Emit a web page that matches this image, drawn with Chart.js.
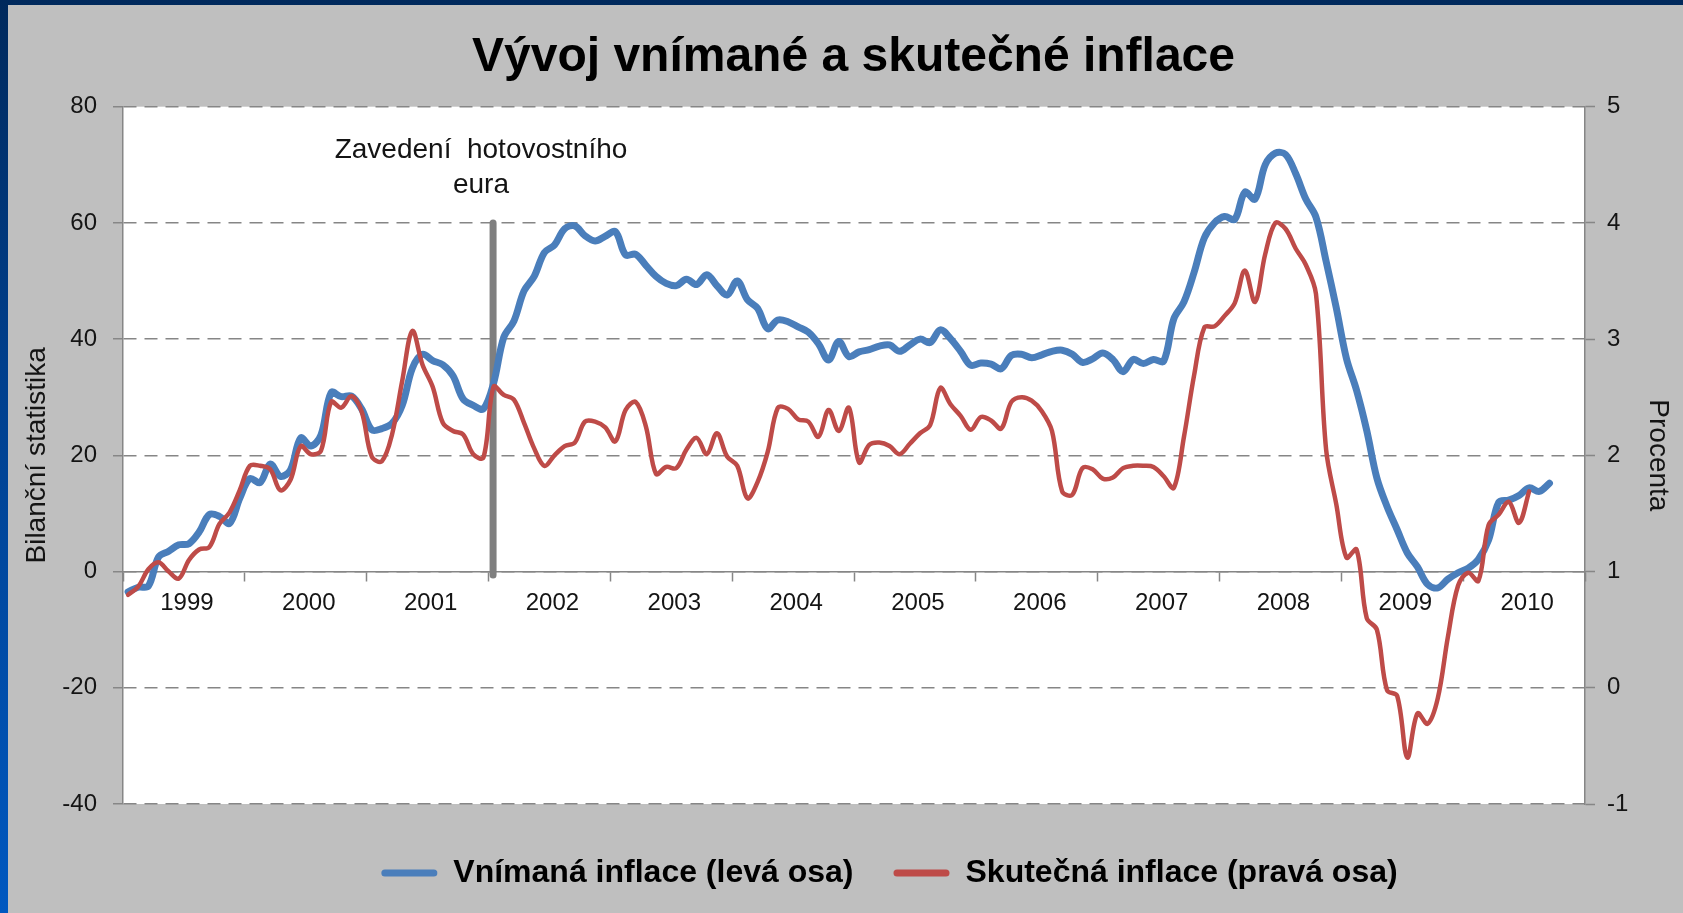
<!DOCTYPE html>
<html>
<head>
<meta charset="utf-8">
<title>Vývoj vnímané a skutečné inflace</title>
<script src="https://cdn.jsdelivr.net/npm/chart.js@4"></script>
<style>
    html, body { margin: 0; padding: 0; }
    body {
        width: 1683px; height: 913px; overflow: hidden;
        background: linear-gradient(to bottom, #00295c 0%, #003f8c 40%, #0058c0 100%);
    }
    #frame { position: absolute; left: 8px; top: 5px; width: 1675px; height: 908px; background: #bfbfbf; }
    canvas { display: block; }
</style>
</head>
<body>
<div id="frame"><canvas id="myChart" width="1675" height="908"></canvas></div>
<script>
// monthly data, Jan 1999 onwards
const yearLabels = ['1999', '2000', '2001', '2002', '2003', '2004', '2005', '2006', '2007', '2008', '2009', '2010'];

// Vnímaná inflace - bilanční statistika (levá osa)
const perceived = [
    -3.5, -2.7, -2.5, 2.5, 3.5, 4.6, 4.8, 6.8, 9.8, 9.5,
    8.3, 12.6, 16.0, 15.3, 18.5, 16.4, 17.5, 23.0, 21.6, 23.5,
    30.8, 30.1, 30.2, 28.0, 24.4, 24.6, 25.5, 28.6, 35.0, 37.4,
    36.3, 35.6, 33.7, 29.7, 28.6, 28.0, 32.4, 40.3, 43.1, 48.3,
    50.8, 54.9, 56.2, 59.0, 59.5, 57.8, 56.9, 57.7, 58.5, 54.5,
    54.6, 52.7, 50.8, 49.6, 49.2, 50.3, 49.4, 51.1, 49.2, 47.6,
    50.0, 46.8, 45.3, 41.8, 43.3, 43.0, 42.1, 41.2, 39.2, 36.4,
    39.6, 37.0, 37.8, 38.2, 38.8, 39.0, 37.9, 39.0, 40.0, 39.4,
    41.6, 40.1, 37.9, 35.5, 35.9, 35.7, 34.9, 37.2, 37.4, 36.8,
    37.3, 37.9, 38.1, 37.4, 36.0, 36.6, 37.6, 36.5, 34.4, 36.5,
    35.8, 36.5, 36.2, 43.5, 46.4, 51.5, 57.4, 60.0, 61.1, 60.6,
    65.3, 64.1, 70.0, 72.0, 71.8, 68.5, 64.1, 61.0, 53.4, 45.4,
    36.7, 31.2, 24.3, 16.1, 11.2, 7.2, 3.2, 0.8, -2.2, -2.8,
    -1.3, -0.2, 0.6, 2.1, 5.4, 11.9, 12.3, 13.1, 14.4, 13.8,
    15.2
];

// Skutečná inflace - procenta (pravá osa)
const actual = [
    0.80, 0.87, 1.02, 1.08, 1.00, 0.94, 1.10, 1.19, 1.21, 1.41,
    1.51, 1.70, 1.91, 1.91, 1.88, 1.70, 1.79, 2.08, 2.01, 2.04,
    2.46, 2.41, 2.51, 2.38, 1.99, 1.95, 2.18, 2.64, 3.07, 2.78,
    2.59, 2.28, 2.21, 2.18, 2.01, 1.98, 2.59, 2.52, 2.48, 2.28,
    2.06, 1.91, 2.00, 2.08, 2.11, 2.29, 2.29, 2.24, 2.12, 2.39,
    2.46, 2.25, 1.84, 1.90, 1.89, 2.05, 2.15, 2.01, 2.19, 1.99,
    1.91, 1.63, 1.77, 2.03, 2.41, 2.40, 2.31, 2.29, 2.16, 2.39,
    2.21, 2.41, 1.94, 2.09, 2.11, 2.08, 2.01, 2.10, 2.19, 2.26,
    2.58, 2.44, 2.34, 2.22, 2.33, 2.30, 2.23, 2.46, 2.50, 2.47,
    2.38, 2.21, 1.69, 1.66, 1.89, 1.88, 1.80, 1.81, 1.89, 1.91,
    1.91, 1.90, 1.82, 1.72, 2.16, 2.69, 3.10, 3.11, 3.20, 3.31,
    3.59, 3.32, 3.73, 4.00, 3.95, 3.78, 3.64, 3.39, 2.05, 1.58,
    1.12, 1.19, 0.60, 0.50, -0.02, -0.07, -0.60, -0.22, -0.31, -0.09,
    0.44, 0.88, 0.99, 0.92, 1.40, 1.49, 1.60, 1.42, 1.69
];

// zavedení eura - leden 2002
const euroMonth = 36.45;
const euroTop = 60;
const euroBottom = -0.6;
const noteLines = ['Zavedení  hotovostního', 'eura'];

const family = '"Liberation Sans", Arial, sans-serif';
const grey = '#868686';
const textColor = '#141414';

const plotBackground = {
    id: 'plotBackground',
    afterLayout(chart) {
        // title and legend sit a bit right of centre in the original
        chart.titleBlock.left += 8;
        chart.titleBlock.right += 8;
        chart.legend.left += 44;
        chart.legend.right += 44;
    },
    beforeDraw(chart) {
        const a = chart.chartArea;
        const ctx = chart.ctx;
        ctx.save();
        ctx.fillStyle = '#ffffff';
        ctx.fillRect(a.left, a.top, a.right - a.left, a.bottom - a.top);
        ctx.restore();
    }
};

const euroNote = {
    id: 'euroNote',
    afterDatasetsDraw(chart) {
        const ctx = chart.ctx;
        const x = chart.scales.x.getPixelForValue(35.26);
        const ys = [72.5, 66.4].map(v => chart.scales.y.getPixelForValue(v));
        ctx.save();
        ctx.font = '28px ' + family;
        ctx.fillStyle = textColor;
        ctx.textAlign = 'center';
        ctx.textBaseline = 'middle';
        noteLines.forEach((t, i) => ctx.fillText(t, x, ys[i]));
        ctx.restore();
    }
};

const ctx = document.getElementById('myChart');
let chart = new Chart(ctx, {
    type: 'line',
    data: {
        datasets: [{
            label: 'Vnímaná inflace (levá osa)',
            data: perceived.map((v, i) => ({ x: i + 0.5, y: v })),
            yAxisID: 'y',
            borderColor: '#4a7ebb',
            backgroundColor: '#4a7ebb',
            borderWidth: 7,
            order: 2
        }, {
            label: 'Skutečná inflace (pravá osa)',
            data: actual.map((v, i) => ({ x: i + 0.5, y: v })),
            yAxisID: 'y1',
            borderColor: '#be4b48',
            backgroundColor: '#be4b48',
            borderWidth: 4.5,
            order: 1
        }, {
            label: 'euro',
            data: [{ x: euroMonth, y: euroTop }, { x: euroMonth, y: euroBottom }],
            yAxisID: 'y',
            borderColor: '#7f7f7f',
            borderWidth: 7,
            borderCapStyle: 'butt',
            tension: 0,
            order: 3
        }]
    },
    options: {
        responsive: false,
        animation: false,
        layout: { padding: { bottom: 14 } },
        elements: {
            point: { radius: 0 },
            line: { tension: 0.35, borderCapStyle: 'round', borderJoinStyle: 'round' }
        },
        plugins: {
            title: {
                display: true,
                text: 'Vývoj vnímané a skutečné inflace',
                color: '#000',
                font: { family: family, size: 48, weight: 'bold' },
                padding: { top: 23.7, bottom: 20.4 }
            },
            legend: {
                position: 'bottom',
                title: { display: true, text: ' ', font: { size: 1 }, padding: { top: 11.8, bottom: 0 } },
                labels: {
                    font: { family: family, size: 32, weight: 'bold' },
                    color: '#000',
                    boxWidth: 56,
                    boxHeight: 7,
                    padding: 40,
                    useBorderRadius: true,
                    borderRadius: 3.5,
                    filter: item => item.datasetIndex < 2,
                    sort: (a, b) => a.datasetIndex - b.datasetIndex,
                    generateLabels: chart => Chart.defaults.plugins.legend.labels.generateLabels(chart)
                        .map(item => Object.assign(item, { lineWidth: 0, fillStyle: item.strokeStyle }))
                }
            },
            tooltip: { enabled: false }
        },
        scales: {
            x: {
                type: 'linear',
                position: { y: 0 },
                min: 0,
                max: 144,
                ticks: { display: false, stepSize: 12 },
                grid: { drawOnChartArea: false, drawTicks: true, tickLength: 9, tickColor: grey, tickWidth: 1.5 },
                border: { display: true, color: grey, width: 1.5 }
            },
            x2: {
                type: 'linear',
                axis: 'x',
                position: { y: 0 },
                min: 0,
                max: 144,
                afterBuildTicks: s => { s.ticks = yearLabels.map((_, i) => ({ value: 6.3 + 12 * i })); },
                ticks: {
                    callback: (v, i) => yearLabels[i],
                    autoSkip: false,
                    maxRotation: 0,
                    padding: 17,
                    color: textColor,
                    font: { family: family, size: 24 }
                },
                grid: { display: false, drawTicks: false },
                border: { display: false }
            },
            y: {
                position: 'left',
                min: -40,
                max: 80,
                ticks: { stepSize: 20, padding: 16, color: textColor, font: { family: family, size: 24 } },
                grid: { color: grey, lineWidth: 1.5, tickLength: 10, tickColor: grey, tickWidth: 1.5 },
                border: { display: true, color: grey, width: 1.5, dash: [13, 8] },
                title: {
                    display: true,
                    text: 'Bilanční statistika',
                    color: textColor,
                    font: { family: family, size: 28 },
                    padding: { top: 12.2, bottom: 0 }
                },
                afterFit: s => { s.width = 115; }
            },
            y1: {
                position: 'right',
                min: -1,
                max: 5,
                ticks: { stepSize: 1, padding: 12, color: textColor, font: { family: family, size: 24 } },
                grid: { drawOnChartArea: false, tickLength: 10, tickColor: grey, tickWidth: 1.5 },
                border: { display: true, color: grey, width: 1.5 },
                title: {
                    display: true,
                    text: 'Procenta',
                    color: textColor,
                    font: { family: family, size: 28 },
                    padding: { top: 8.2, bottom: 0 }
                },
                afterFit: s => { s.width = 98; }
            }
        }
    },
    plugins: [plotBackground, euroNote]
});
</script>
</body>
</html>
